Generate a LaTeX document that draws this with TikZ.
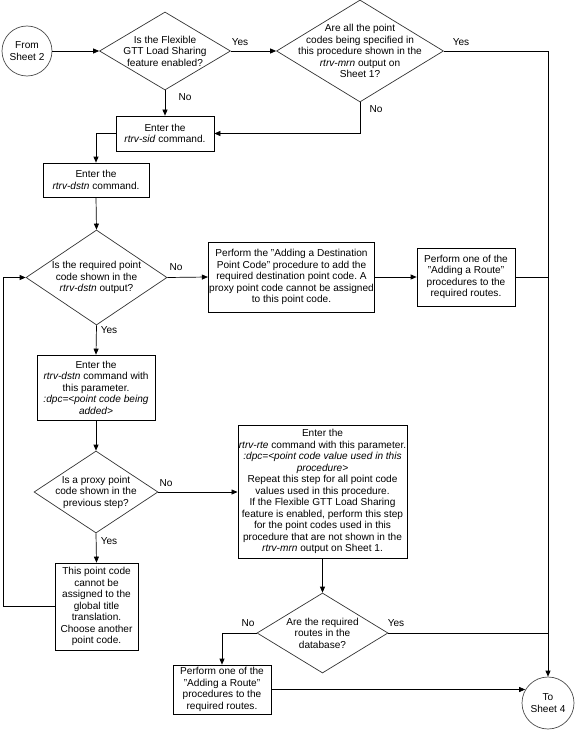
\documentclass[tikz,border=0pt]{standalone}
\usepackage{fontspec}
\setmainfont{Liberation Sans}
\usetikzlibrary{shapes.geometric,arrows.meta,positioning}
\frenchspacing

\begin{document}
\begin{tikzpicture}[x=1pt, y=-1pt,
    font=\fontsize{10.1}{11.5}\selectfont,
    line width=0.7pt,
    arr/.style={-{Triangle[length=6pt,width=5pt]}},
    term/.style={circle, draw=black!70, minimum size=#1, inner sep=0pt, align=center},
    proc/.style={rectangle, draw, inner sep=1pt, align=center},
    decision/.style={diamond, draw=black!80, inner sep=0pt},
    dtext/.style={align=center, inner sep=0pt},
    lbl/.style={inner sep=0pt}]
    \useasboundingbox (0,0) rectangle (575,733);

    % Terminals
    \node[term=50pt] (from) at (27,51) {From\\Sheet 2};
    \node[term=52pt] (to) at (548,703) {To\\Sheet 4};

    % Top decisions
    \node[decision, minimum width=131pt, minimum height=78pt] (flex) at (165,51) {};
    \node[dtext] (flext) at (flex) {Is the Flexible\\GTT Load Sharing\\feature enabled?};
    \node[decision, minimum width=167pt, minimum height=102pt] (mrn) at (360,51) {};
    \node[dtext] (mrnt) at (mrn) {Are all the point\\codes being specified in\\this procedure shown in the\\\textit{rtrv-mrn} output on\\Sheet 1?};

    % rtrv-sid and rtrv-dstn
    \node[proc, minimum width=98pt, minimum height=35pt] (sid) at (165,133.5) {Enter the\\\textit{rtrv-sid} command.};
    \node[proc, minimum width=106pt, minimum height=34pt] (dstn) at (96,180) {Enter the\\\textit{rtrv-dstn} command.};

    % Point code shown?
    \node[decision, minimum width=141pt, minimum height=95pt] (shown) at (96.5,277.5) {};
    \node[dtext] (shownt) at (shown) {Is the required point\\code shown in the\\\textit{rtrv-dstn} output?};
    \node[proc, minimum width=163pt, minimum height=70pt] (adddpc) at (291.5,277) {Perform the "Adding a Destination\\Point Code" procedure to add the\\required destination point code. A\\proxy point code cannot be assigned\\to this point code.};
    \node[proc, minimum width=98pt, minimum height=58pt] (route1) at (466,277) {Perform one of the\\"Adding a Route"\\procedures to the\\required routes.};

    % rtrv-dstn with dpc
    \node[proc, minimum width=118pt, minimum height=65pt] (dpcbox) at (96,387.5) {Enter the\\\textit{rtrv-dstn} command with\\this parameter.\\\textit{:dpc=<point code being}\\\textit{added>}};

    % Proxy point code?
    \node[decision, minimum width=124pt, minimum height=82pt] (proxy) at (96,492) {};
    \node[dtext] (proxyt) at (proxy) {Is a proxy point\\code shown in the\\previous step?};
    \node[proc, minimum width=83pt, minimum height=87pt] (cannot) at (96.5,606.5) {This point code\\cannot be\\assigned to the\\global title\\translation.\\Choose another\\point code.};

    % rtrv-rte
    \node[proc, minimum width=169pt, minimum height=133pt] (rte) at (322.5,491.5) {Enter the\\\textit{rtrv-rte} command with this parameter.\\\textit{:dpc=<point code value used in this}\\\textit{procedure>}\\Repeat this step for all point code\\values used in this procedure.\\If the Flexible GTT Load Sharing\\feature is enabled, perform this step\\for the point codes used in this\\procedure that are not shown in the\\\textit{rtrv-mrn} output on Sheet 1.};
    \node[decision, minimum width=131pt, minimum height=80pt] (routes) at (322.5,633) {};
    \node[dtext] (routest) at (routes) {Are the required\\routes in the\\database?};
    \node[proc, minimum width=98pt, minimum height=49pt] (route2) at (222,689.5) {Perform one of the\\"Adding a Route"\\procedures to the\\required routes.};

    % Connectors
    \coordinate (loop) at (3,0);
    \draw[arr] (from) -- (flex.west);
    \draw[arr] (flex.east) -- (mrn.west);
    \draw[arr] (flex.south) -- (sid.north);
    \draw[arr] (mrn.east) -| (to.north);
    \draw[arr] (mrn.south) |- (sid.east);
    \draw[arr] (sid.west) -| (dstn.north);
    \draw[arr] (dstn.south) -- (shown.north);
    \draw[arr] (shown.east) -- (adddpc.west);
    \draw[arr] (adddpc.east) -- (route1.west);
    \draw (route1.east) -- (route1.east -| to.north);
    \draw[arr] (shown.south) -- (dpcbox.north);
    \draw[arr] (dpcbox.south) -- (proxy.north);
    \draw[arr] (proxy.east) -- (proxy.east -| rte.west);
    \draw[arr] (proxy.south) -- (cannot.north);
    \draw[arr] (cannot.west) -- (cannot.west -| loop) |- (shown.west);
    \draw[arr] (rte.south) -- (routes.north);
    \draw (routes.east) -- (routes.east -| to.north);
    \draw[arr] (routes.west) -| (route2.north);
    \draw[arr] (route2.east) -- (route2.east -| to.150);

    % Labels
    \node[lbl] (yes1) at (240,42) {Yes};
    \node[lbl] (no1) at (185,97) {No};
    \node[lbl] (yes2) at (461,42) {Yes};
    \node[lbl] (no2) at (376,109) {No};
    \node[lbl] (no3) at (176,267) {No};
    \node[lbl] (yes3) at (109,330) {Yes};
    \node[lbl] (no4) at (166,483) {No};
    \node[lbl] (yes4) at (109,541) {Yes};
    \node[lbl] (no5) at (248,623) {No};
    \node[lbl] (yes5) at (396,623) {Yes};
\end{tikzpicture}
\end{document}
